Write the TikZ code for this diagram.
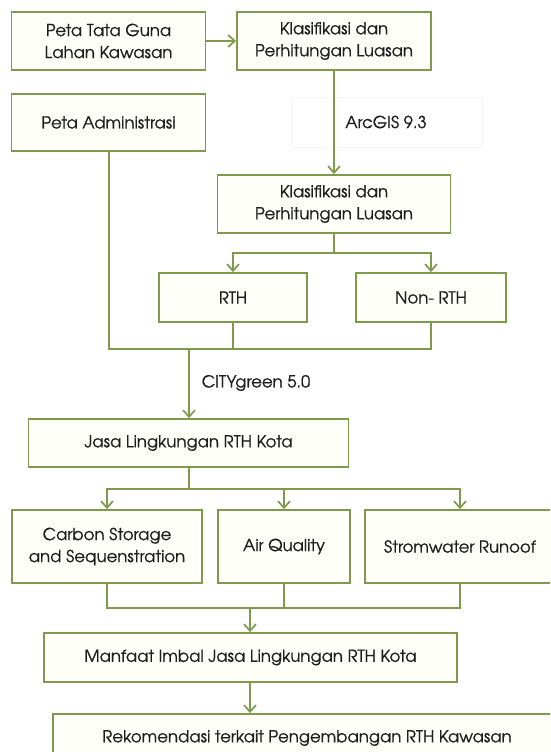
\documentclass[tikz,border=0pt]{standalone}
\usepackage{fontspec}
\setmainfont{TeX Gyre Adventor}[FakeBold=0.7]
\usetikzlibrary{arrows.meta}
\definecolor{olivel}{HTML}{7F9A4A}
\definecolor{boxfill}{HTML}{FFFFFA}
\definecolor{txt}{HTML}{1E1E1E}
\tikzset{
  box/.style={draw=olivel, fill=boxfill, line width=1.4pt, align=center, inner sep=0pt,
    text=txt, font=\fontsize{12.4}{16.5}\selectfont},
  conn/.style={draw=olivel, line width=1.5pt},
  arr/.style={conn, -{Straight Barb[length=5pt,width=9pt,line width=1.3pt]}},
  lbl/.style={text=txt, font=\fontsize{12.4}{16.5}\selectfont, inner sep=0pt}
}
\begin{document}
\begin{tikzpicture}[x=0.75pt,y=-0.75pt]
\useasboundingbox (0,0) rectangle (550,752);
\clip (0,0) rectangle (550,752);
\fill[white] (0,0) rectangle (550,752);
% faint background box behind ArcGIS label
\draw[black!4, fill=white, line width=0.6pt] (291,97) rectangle (482,147);

\node[box, minimum width=194*0.75pt, minimum height=58*0.75pt] (b1) at (108.5,41) {Peta Tata Guna\\Lahan Kawasan};
\node[box, minimum width=194*0.75pt, minimum height=58*0.75pt] (b2) at (334,41) {Klasifikasi dan\\Perhitungan Luasan};
\node[box, minimum width=194*0.75pt, minimum height=57*0.75pt] (b3) at (108.5,122.5) {Peta Administrasi};
\node[box, minimum width=233*0.75pt, minimum height=58*0.75pt] (b4) at (334,204) {Klasifikasi dan\\Perhitungan Luasan};
\node[box, minimum width=148*0.75pt, minimum height=49*0.75pt] (rth) at (233,297.5) {RTH};
\node[box, minimum width=150*0.75pt, minimum height=49*0.75pt] (nrth) at (431,297.5) {Non- RTH};
\node[box, minimum width=320*0.75pt, minimum height=48*0.75pt] (jasa) at (188.5,443) {Jasa Lingkungan RTH Kota};
\node[box, minimum width=190*0.75pt, minimum height=73*0.75pt] (carbon) at (107,546.5) {Carbon Storage\\and Sequenstration};
\node[box, minimum width=132*0.75pt, minimum height=73*0.75pt] (air) at (284,546.5) {Air Quality};
\node[box, minimum width=190*0.75pt, minimum height=73*0.75pt] (storm) at (460,546.5) {Stromwater Runoof};
\node[box, minimum width=413*0.75pt, minimum height=49*0.75pt] (manf) at (250.5,657.5) {Manfaat Imbal Jasa Lingkungan RTH Kota};
\node[box, minimum width=508*0.75pt, minimum height=48*0.75pt] (rek) at (307,738) {Rekomendasi terkait Pengembangan RTH Kawasan};

\node[lbl] (arcgis) at (386,122) {ArcGIS 9.3};
\node[lbl] (city) at (256,383) {CITYgreen 5.0};

% connectors
\draw[arr] (b1.east) -- (b2.west);
\draw[arr] (b2.south) -- (b4.north);

\coordinate (j1) at (334,253);
\draw[conn] (b4.south) -- (j1);
\draw[arr] (j1) -| (rth.north);
\draw[arr] (j1) -| (nrth.north);

\coordinate (j2) at (189,349);
\draw[conn] (b3.south) |- (j2);
\draw[conn] (rth.south) |- (j2);
\draw[conn] (nrth.south) |- (j2);
\draw[arr] (j2) -- (jasa.north -| j2);

\coordinate (j3) at (189,489);
\draw[conn] (jasa.south -| j3) -- (j3);
\draw[arr] (j3) -| (carbon.north);
\draw[arr] (j3) -| (air.north);
\draw[arr] (j3) -| (storm.north);

\coordinate (j4) at (250,608);
\draw[conn] (carbon.south) |- (j4);
\draw[conn] (air.south) |- (j4);
\draw[conn] (storm.south) |- (j4);
\draw[arr] (j4) -- (manf.north -| j4);

\draw[arr] (manf.south -| j4) -- (rek.north -| j4);
\end{tikzpicture}
\end{document}
